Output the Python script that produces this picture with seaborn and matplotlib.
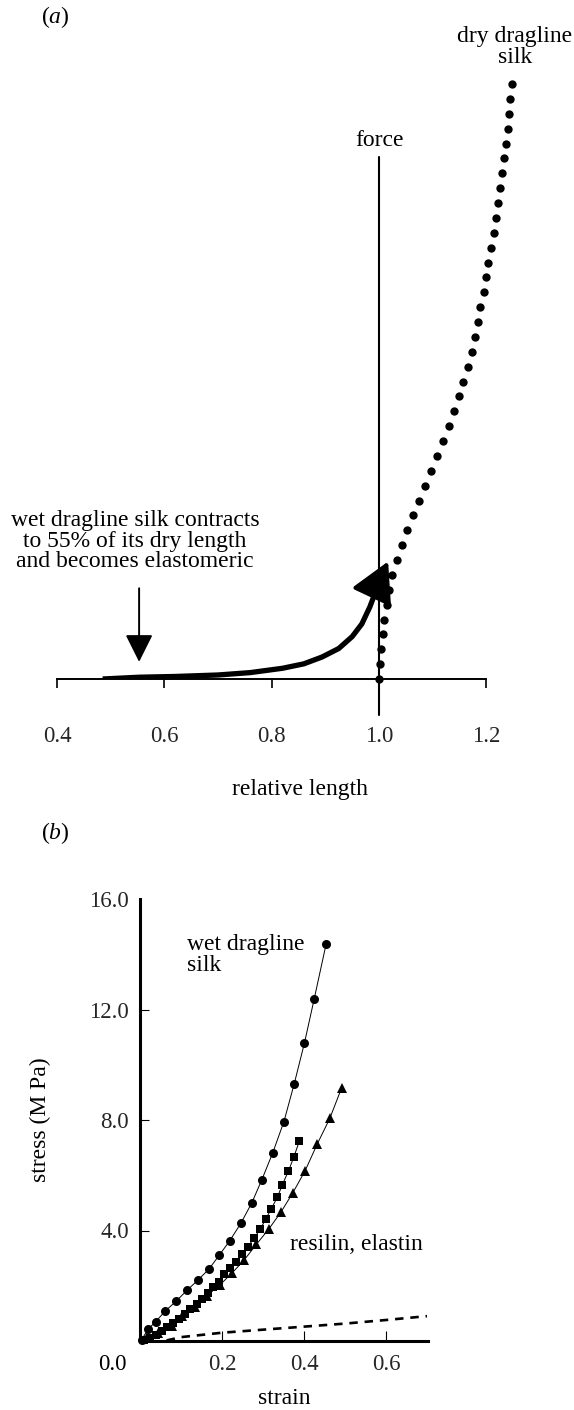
import matplotlib
matplotlib.use("Agg")
import matplotlib.pyplot as plt
import seaborn as sns

# ---------------- data ----------------
# panel (a): dry dragline silk (force levels vs relative length)
dry_force = [0, 1, 2, 3, 4, 5, 6, 7, 8, 9, 10, 11, 12, 13, 14, 15, 16, 17, 18, 19, 20,
             21, 22, 23, 24, 25, 26, 27, 28, 29, 30, 31, 32, 33, 34, 35, 36, 37, 38, 39, 40]
dry_length = [1.000, 1.002, 1.004, 1.007, 1.010, 1.014, 1.018, 1.025, 1.033, 1.042,
              1.053, 1.064, 1.075, 1.086, 1.097, 1.108, 1.119, 1.130, 1.140, 1.149,
              1.157, 1.165, 1.173, 1.179, 1.184, 1.189, 1.195, 1.200, 1.204, 1.209,
              1.214, 1.218, 1.222, 1.225, 1.230, 1.233, 1.237, 1.240, 1.243, 1.245, 1.247]
# wet dragline silk (thick curve with arrow)
wet_length = [0.485, 0.553, 0.62, 0.70, 0.76, 0.82, 0.86, 0.894, 0.925, 0.95,
              0.968, 0.983, 0.995, 1.004]
wet_force = [0.0, 0.12, 0.17, 0.27, 0.43, 0.72, 1.02, 1.48, 2.05, 2.85,
             3.7, 4.85, 6.0, 6.9]
wet_tip = [1.017, 7.9]
force_line_x = [1.0, 1.0]
force_line_y = [-2.4, 35.1]
contract_arrow_x = [0.553, 0.553]
contract_arrow_y = [6.1, 1.15]
a_ticks = [0.4, 0.6, 0.8, 1.0, 1.2]
a_ticklabels = ["0.4", "0.6", "0.8", "1.0", "1.2"]

# panel (b): stress-strain
circ_strain = [0.004, 0.020, 0.038, 0.062, 0.088, 0.115, 0.141, 0.168, 0.193, 0.219,
               0.246, 0.273, 0.297, 0.324, 0.351, 0.376, 0.401, 0.425, 0.454]
circ_stress = [0.05, 0.43, 0.70, 1.09, 1.44, 1.84, 2.20, 2.60, 3.10, 3.63,
               4.26, 5.01, 5.83, 6.82, 7.94, 9.30, 10.78, 12.39, 14.37]
sq_strain = [0.009, 0.024, 0.039, 0.053, 0.067, 0.081, 0.095, 0.110, 0.123, 0.138,
             0.152, 0.165, 0.179, 0.193, 0.206, 0.220, 0.235, 0.248, 0.263, 0.278,
             0.293, 0.307, 0.320, 0.335, 0.347, 0.362, 0.375, 0.389]
sq_stress = [0.04, 0.12, 0.22, 0.35, 0.49, 0.64, 0.81, 0.98, 1.15, 1.33,
             1.51, 1.73, 1.94, 2.15, 2.42, 2.63, 2.87, 3.15, 3.41, 3.72,
             4.04, 4.42, 4.78, 5.20, 5.65, 6.15, 6.65, 7.25]
tri_strain = [0.016, 0.044, 0.077, 0.103, 0.134, 0.163, 0.195, 0.225, 0.254, 0.284,
              0.315, 0.344, 0.373, 0.403, 0.432, 0.463, 0.492]
tri_stress = [0.13, 0.28, 0.54, 0.90, 1.24, 1.64, 2.03, 2.47, 2.93, 3.50,
              4.07, 4.67, 5.37, 6.17, 7.12, 8.06, 9.17]
res_strain = [0.065, 0.10, 0.20, 0.30, 0.40, 0.50, 0.60, 0.70]
res_stress = [0.02, 0.14, 0.30, 0.41, 0.52, 0.63, 0.76, 0.90]
b_xticks = [0.2, 0.4, 0.6]
b_xticklabels = ["0.2", "0.4", "0.6"]
b_yticks = [4, 8, 12, 16]
b_yticklabels = ["4.0", "8.0", "12.0", "16.0"]

# ---------------- figure ----------------
sns.set_theme(style="white")
plt.rcParams["font.family"] = ["Liberation Serif", "DejaVu Serif"]
plt.rcParams["mathtext.fontset"] = "custom"
plt.rcParams["mathtext.it"] = "Liberation Serif:italic"
plt.rcParams["mathtext.rm"] = "Liberation Serif"

W, H = 574, 1410
fig = plt.figure(figsize=(W / 100, H / 100), dpi=100)
FS = 17
K = "black"


def ftxt(x, y, s, **kw):
    fig.text(x / W, 1 - y / H, s, fontsize=kw.pop("fontsize", FS), color=K, **kw)


# ---- panel a ----
axa = fig.add_axes([57 / W, (H - 679) / H, 483 / W, 624.75 / H])
axa.set_xlim(0.4, 1.3)
axa.set_ylim(0, 42)
axa.patch.set_alpha(0)
for s in ["top", "right", "left"]:
    axa.spines[s].set_visible(False)
axa.spines["bottom"].set_bounds(0.4, 1.2)
axa.spines["bottom"].set_linewidth(1.4)
axa.spines["bottom"].set_color(K)
axa.set_yticks([])
axa.set_xticks(a_ticks)
axa.set_xticklabels(a_ticklabels)
axa.tick_params(axis="x", direction="out", length=6.5, width=1.2, color=K,
                labelsize=16.5, pad=27, bottom=True)

sns.lineplot(x=force_line_x, y=force_line_y, ax=axa, color=K, lw=1.5,
             sort=False, estimator=None)
for ln in axa.lines:
    ln.set_clip_on(False)
sns.scatterplot(x=dry_length, y=dry_force, ax=axa, color=K, s=36, linewidth=0,
                clip_on=False, zorder=5)
sns.lineplot(x=wet_length, y=wet_force, ax=axa, color=K, lw=3.8, sort=False,
             estimator=None, solid_capstyle="butt", solid_joinstyle="round")
axa.annotate("", xy=(wet_tip[0], wet_tip[1]), xytext=(wet_length[-1], wet_force[-1]),
             arrowprops=dict(arrowstyle="-|>,head_length=2.0,head_width=1.1",
                             mutation_scale=12, lw=3.0, color=K,
                             shrinkA=0, shrinkB=0))
axa.annotate("", xy=(contract_arrow_x[1], contract_arrow_y[1]),
             xytext=(contract_arrow_x[0], contract_arrow_y[0]),
             arrowprops=dict(arrowstyle="-|>,head_length=1.7,head_width=0.85",
                             mutation_scale=10, lw=1.4, color=K,
                             shrinkA=0, shrinkB=0))

ftxt(55, 17, r"($\it{a}$)", ha="center", va="center")
ftxt(515, 47, "dry dragline\nsilk", ha="center", va="center", linespacing=0.95)
ftxt(379, 140, "force", ha="center", va="center")
ftxt(135, 541, "wet dragline silk contracts\nto 55% of its dry length\nand becomes elastomeric",
     ha="center", va="center", linespacing=0.95)
ftxt(300, 789, "relative length", ha="center", va="center")

# ---- panel b ----
axb = fig.add_axes([140 / W, (H - 1341) / H, 287.8 / W, 442 / H])
axb.set_xlim(0, 0.702)
axb.set_ylim(0, 16)
axb.patch.set_alpha(0)
for s in ["top", "right"]:
    axb.spines[s].set_visible(False)
for s in ["left", "bottom"]:
    axb.spines[s].set_linewidth(2.2)
    axb.spines[s].set_color(K)
axb.set_xticks(b_xticks)
axb.set_xticklabels(b_xticklabels)
axb.set_yticks(b_yticks)
axb.set_yticklabels(b_yticklabels)
axb.tick_params(axis="x", direction="in", length=7, width=0.8, color=K,
                labelsize=16.5, pad=9, bottom=True)
axb.tick_params(axis="y", direction="in", length=6.5, width=0.8, color=K,
                labelsize=16.5, pad=8, left=True)
axb.yaxis.get_major_ticks()[-1].tick1line.set_visible(False)

series = [
    (circ_strain, circ_stress, "o", 6.5),
    (sq_strain, sq_stress, "s", 5.8),
    (tri_strain, tri_stress, "^", 7.0),
]
for xs, ys, mk, ms in series:
    sns.lineplot(x=xs, y=ys, ax=axb, color=K, lw=0.7, sort=False, estimator=None,
                 marker=mk, markersize=ms, markeredgewidth=0, clip_on=False)
sns.lineplot(x=res_strain, y=res_stress, ax=axb, color=K, lw=1.9, sort=False,
             estimator=None, dashes=False)
axb.lines[-1].set_dashes((3.2, 2.6))

ftxt(55, 833, r"($\it{b}$)", ha="center", va="center")
ftxt(187, 955, "wet dragline\nsilk", ha="left", va="center", linespacing=0.95)
ftxt(290, 1244, "resilin, elastin", ha="left", va="center")
ftxt(112, 1365, "0.0", ha="center", va="center", fontsize=16.5)
ftxt(284, 1399, "strain", ha="center", va="center")
ftxt(40, 1120, "stress (M Pa)", ha="center", va="center", rotation=90)

fig.savefig("out.png", dpi=100)
